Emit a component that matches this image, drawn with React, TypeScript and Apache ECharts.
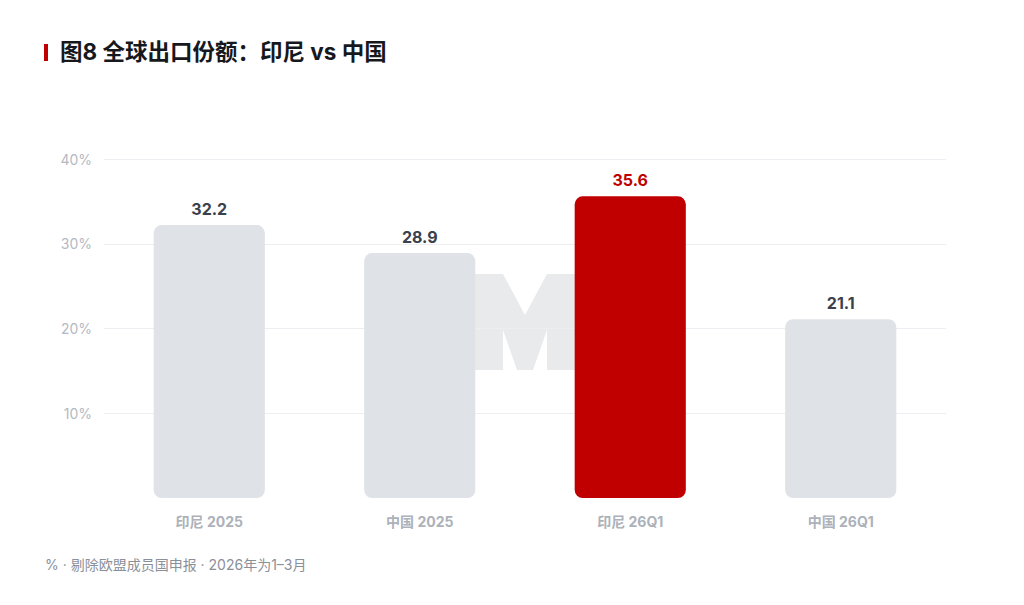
import React, { useEffect, useRef } from "react";
import * as echarts from "echarts";

const categories = ["印尼 2025", "中国 2025", "印尼 26Q1", "中国 26Q1"];
const shareValues = [32.2, 28.9, 35.6, 21.1];
const highlightIndex = 2;
const yTicks = [0, 10, 20, 30, 40];
const titleText = "图8 全球出口份额：印尼 vs 中国";
const footnoteText = "% · 剔除欧盟成员国申报 · 2026年为1–3月";

const RED = "#c00000";
const GRAY_BAR = "#dfe2e6";
const FONT = "Inter, 'Noto Sans CJK SC', sans-serif";

export default function App() {
  const ref = useRef<HTMLDivElement>(null);

  useEffect(() => {
    document.body.style.margin = "0";
    if (!ref.current) return;
    const chart = echarts.init(ref.current, undefined, { renderer: "svg" });

    const data = shareValues.map((v, i) => ({
      value: v,
      itemStyle: { color: i === highlightIndex ? RED : GRAY_BAR },
      label: { color: i === highlightIndex ? RED : "#3b414c" },
    }));

    chart.setOption({
      animation: false,
      backgroundColor: "#ffffff",
      textStyle: { fontFamily: FONT },
      grid: { left: 104, right: 78, top: 159, bottom: 107 },
      xAxis: {
        type: "category",
        data: categories,
        axisLine: { show: false },
        axisTick: { show: false },
        axisLabel: {
          color: "#acb1ba",
          fontSize: 14,
          fontWeight: 700,
          margin: 16,
          fontFamily: FONT,
        },
      },
      yAxis: {
        type: "value",
        min: yTicks[0],
        max: yTicks[yTicks.length - 1],
        interval: 10,
        axisLine: { show: false },
        axisTick: { show: false },
        axisLabel: {
          color: "#b4b9c2",
          fontSize: 14,
          margin: 12,
          fontFamily: FONT,
          formatter: (v: number) => (v === 0 ? "" : v + "%"),
        },
        splitLine: {
          lineStyle: {
            color: ["rgba(0,0,0,0)", "#eceef1", "#eceef1", "#eceef1", "#eceef1"],
            width: 1,
          },
        },
      },
      series: [
        {
          type: "bar",
          data,
          barWidth: "52.8%",
          itemStyle: { borderRadius: 8 },
          label: {
            show: true,
            position: "top",
            distance: 8,
            fontSize: 16,
            fontWeight: 700,
            fontFamily: FONT,
            formatter: (p: any) => Number(p.value).toFixed(1),
          },
          z: 3,
        },
      ],
      graphic: [
        {
          type: "polygon",
          z: -1,
          silent: true,
          shape: {
            points: [
              [470, 370],
              [470, 274],
              [503, 274],
              [525, 315],
              [547, 274],
              [580, 274],
              [580, 370],
              [547, 370],
              [547, 330],
              [533, 370],
              [517, 370],
              [503, 330],
              [503, 370],
            ],
          },
          style: { fill: "#e9eaec" },
        },
        {
          type: "rect",
          shape: { x: 44, y: 44, width: 4, height: 17 },
          style: { fill: RED },
        },
        {
          type: "text",
          left: 60,
          top: 40,
          style: {
            text: titleText,
            fill: "#16181d",
            fontSize: 22.5,
            fontWeight: 700,
            fontFamily: FONT,
          },
        },
        {
          type: "text",
          left: 45,
          top: 557,
          style: {
            text: footnoteText,
            fill: "#8a9099",
            fontSize: 14,
            fontFamily: FONT,
          },
        },
      ],
    });

    return () => chart.dispose();
  }, []);

  return <div ref={ref} style={{ width: 1024, height: 605 }} />;
}
